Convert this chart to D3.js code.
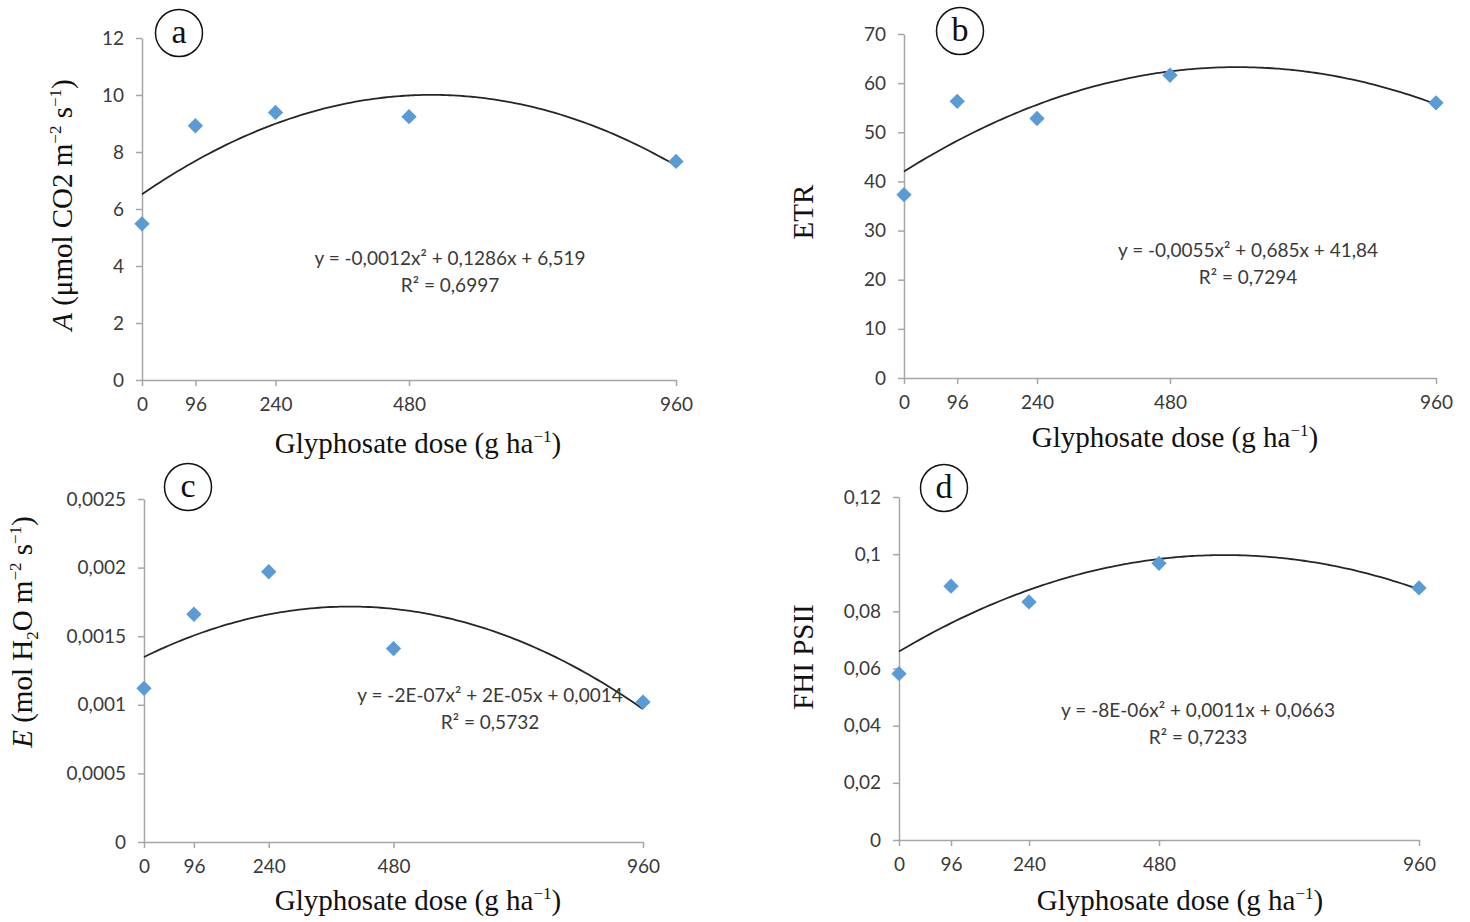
<!DOCTYPE html>
<html>
<head>
<meta charset="utf-8">
<script src="https://cdn.jsdelivr.net/npm/d3@7"></script>
<style>
  body { margin: 0; background: #fff; }
  svg { display: block; }
  .tick text { font-family: Lato, "Open Sans", sans-serif; fill: #3a3a3a; }
  .serif { font-family: "Liberation Serif", "DejaVu Serif", serif; fill: #111; }
</style>
</head>
<body>
<svg id="chart" width="1470" height="922"></svg>
<script>
// doses (g/ha) shared by the four panels
const doses = [0, 96, 240, 480, 960];

const photoA = [5.48, 8.92, 9.39, 9.24, 7.67];
const etr = [37.3, 56.3, 52.8, 61.6, 56.0];
const transpE = [0.00112, 0.00166, 0.00197, 0.00141, 0.00102];
const fhiPsii = [0.0582, 0.0888, 0.0833, 0.0968, 0.0882];

// axis ticks
const ticksA = [0, 2, 4, 6, 8, 10, 12];
const ticksETR = [0, 10, 20, 30, 40, 50, 60, 70];
const ticksE = [0, 0.0005, 0.001, 0.0015, 0.002, 0.0025];
const ticksFHI = [0, 0.02, 0.04, 0.06, 0.08, 0.1, 0.12];

// trendline labels
const equations = [
  "y = -0,0012x² + 0,1286x + 6,519",
  "y = -0,0055x² + 0,685x + 41,84",
  "y = -2E-07x² + 2E-05x + 0,0014",
  "y = -8E-06x² + 0,0011x + 0,0663"
];
const r2Labels = ["R² = 0,6997", "R² = 0,7294", "R² = 0,5732", "R² = 0,7233"];
const panelLetters = ["a", "b", "c", "d"];

const commaFmt = v => String(v).replace(".", ",");

const panels = [
  { values: photoA, ticks: ticksA, max: 12, x0: 142, x1: 676, yTop: 38, yBot: 380,
    circle: [179, 33], yLab: [62, 205], xLab: [418, 453], eq: [450, 258], ylabel: "A" },
  { values: etr, ticks: ticksETR, max: 70, x0: 904, x1: 1436, yTop: 34, yBot: 378,
    circle: [960, 31], yLab: [803, 212], xLab: [1175, 447], eq: [1248, 250], ylabel: "ETR" },
  { values: transpE, ticks: ticksE, max: 0.0025, x0: 144, x1: 643, yTop: 499, yBot: 842,
    circle: [188, 487], yLab: [22, 632], xLab: [418, 910], eq: [490, 695], ylabel: "E" },
  { values: fhiPsii, ticks: ticksFHI, max: 0.12, x0: 899, x1: 1419, yTop: 497, yBot: 840,
    circle: [944, 488], yLab: [803, 657], xLab: [1180, 910], eq: [1198, 710], ylabel: "FHI" }
];

// least squares quadratic (what the spreadsheet trendline does)
function quadFit(xs, ys) {
  let s = [0, 0, 0, 0, 0], t = [0, 0, 0];
  xs.forEach((x, i) => {
    for (let k = 0; k < 5; k++) s[k] += Math.pow(x, k);
    for (let k = 0; k < 3; k++) t[k] += ys[i] * Math.pow(x, k);
  });
  const m = [[s[0], s[1], s[2], t[0]], [s[1], s[2], s[3], t[1]], [s[2], s[3], s[4], t[2]]];
  for (let c = 0; c < 3; c++) {
    for (let r = c + 1; r < 3; r++) {
      const f = m[r][c] / m[c][c];
      for (let k = c; k < 4; k++) m[r][k] -= f * m[c][k];
    }
  }
  const b = [0, 0, 0];
  for (let r = 2; r >= 0; r--) {
    let v = m[r][3];
    for (let k = r + 1; k < 3; k++) v -= m[r][k] * b[k];
    b[r] = v / m[r][r];
  }
  return x => b[0] + b[1] * x + b[2] * x * x;
}

const svg = d3.select("#chart");
const axisColor = "#a6a6a6";
const sup = (t, txt) => {
  t.append("tspan").attr("dy", -11).style("font-size", "17px").text(txt);
};

panels.forEach((p, i) => {
  const g = svg.append("g");
  const x = d3.scaleLinear().domain([0, 960]).range([p.x0, p.x1]);
  const y = d3.scaleLinear().domain([0, p.max]).range([p.yBot, p.yTop]);

  // y axis
  const yAxis = g.append("g")
    .attr("transform", `translate(${p.x0},0)`)
    .call(d3.axisLeft(y).tickValues(p.ticks).tickFormat(commaFmt).tickSize(6).tickSizeOuter(0).tickPadding(12));
  // x axis
  const xAxis = g.append("g")
    .attr("transform", `translate(0,${p.yBot})`)
    .call(d3.axisBottom(x).tickValues(doses).tickFormat(d => d).tickSize(6).tickSizeOuter(0).tickPadding(12));

  [yAxis, xAxis].forEach(a => {
    a.select(".domain").attr("stroke", axisColor).attr("stroke-width", 1.5);
    a.selectAll(".tick line").attr("stroke", axisColor).attr("stroke-width", 1.5);
    a.selectAll(".tick text").style("font-size", "19px");
  });

  // trendline
  const fit = quadFit(doses, p.values);
  const curve = d3.range(0, 961, 8).map(d => [d, fit(d)]);
  g.append("path")
    .datum(curve)
    .attr("fill", "none")
    .attr("stroke", "#262626")
    .attr("stroke-width", 1.8)
    .attr("d", d3.line().x(d => x(d[0])).y(d => y(d[1])).curve(d3.curveMonotoneX));

  // markers
  g.selectAll("path.pt")
    .data(doses.map((d, k) => [d, p.values[k]]))
    .join("path")
    .attr("class", "pt")
    .attr("d", d3.symbol(d3.symbolDiamond2, 150))
    .attr("transform", d => `translate(${x(d[0])},${y(d[1])})`)
    .attr("fill", "#5b9bd5");

  // equation and R²
  g.append("text").attr("x", p.eq[0]).attr("y", p.eq[1]).attr("dy", "0.35em")
    .attr("text-anchor", "middle").attr("fill", "#3a3a3a")
    .style("font-family", "Lato, 'Open Sans', sans-serif").style("font-size", "19px")
    .text(equations[i]);
  g.append("text").attr("x", p.eq[0]).attr("y", p.eq[1] + 27).attr("dy", "0.35em")
    .attr("text-anchor", "middle").attr("fill", "#3a3a3a")
    .style("font-family", "Lato, 'Open Sans', sans-serif").style("font-size", "19px")
    .text(r2Labels[i]);

  // panel letter in a circle
  g.append("circle").attr("cx", p.circle[0]).attr("cy", p.circle[1]).attr("r", 23.5)
    .attr("fill", "#fff").attr("stroke", "#111").attr("stroke-width", 1.5);
  g.append("text").attr("class", "serif").attr("x", p.circle[0]).attr("y", p.circle[1])
    .attr("dy", "0.3em").attr("text-anchor", "middle").style("font-size", "34px")
    .text(panelLetters[i]);

  // x title
  const xt = g.append("text").attr("class", "serif").attr("x", p.xLab[0]).attr("y", p.xLab[1])
    .attr("text-anchor", "middle").style("font-size", "29px");
  xt.append("tspan").text("Glyphosate dose (g ha");
  sup(xt, "−1");
  xt.append("tspan").attr("dy", 11).text(")");

  // y title
  const yt = g.append("text").attr("class", "serif")
    .attr("transform", `translate(${p.yLab[0]},${p.yLab[1]}) rotate(-90)`)
    .attr("text-anchor", "middle").attr("dy", "0.35em").style("font-size", "29px");
  if (p.ylabel === "A") {
    yt.append("tspan").style("font-style", "italic").text("A");
    yt.append("tspan").text(" (μmol CO2 m");
    sup(yt, "−2");
    yt.append("tspan").attr("dy", 11).text(" s");
    sup(yt, "−1");
    yt.append("tspan").attr("dy", 11).text(")");
  } else if (p.ylabel === "E") {
    yt.append("tspan").style("font-style", "italic").text("E");
    yt.append("tspan").text(" (mol H");
    yt.append("tspan").attr("dy", 6).style("font-size", "17px").text("2");
    yt.append("tspan").attr("dy", -6).text("O m");
    sup(yt, "−2");
    yt.append("tspan").attr("dy", 11).text(" s");
    sup(yt, "−1");
    yt.append("tspan").attr("dy", 11).text(")");
  } else if (p.ylabel === "ETR") {
    yt.text("ETR");
  } else {
    yt.text("FHI PSII");
  }
});
</script>
</body>
</html>
